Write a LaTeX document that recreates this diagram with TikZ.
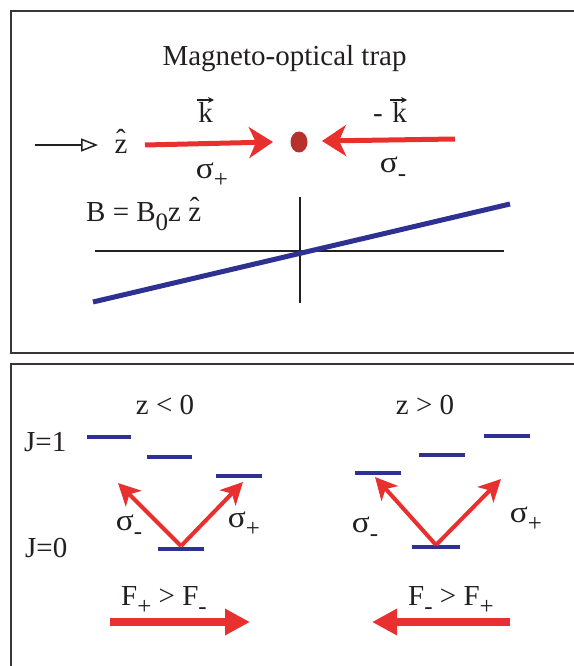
\documentclass[tikz,border=0pt]{standalone}
\usepackage{fontspec}
\setmainfont{Liberation Serif}
\usetikzlibrary{arrows.meta,shapes.geometric}
\definecolor{mred}{HTML}{E8302F}
\definecolor{mdot}{HTML}{B8302C}
\definecolor{mblue}{HTML}{2E3192}
\definecolor{mblack}{HTML}{231F20}
\newcommand\sbs[1]{\raisebox{-0.33em}{\fontsize{25}{25}\selectfont #1}}
\newcommand\sig{\scalebox{1.15}[1.05]{σ}}
\newcommand\zhat{\ooalign{z\cr\hidewidth\raisebox{0.13em}{\char"02C6}\hidewidth\cr}}
\tikzset{
  txt/.style={anchor=base,inner sep=0pt,font=\fontsize{29}{32}\selectfont,text=mblack},
  frame/.style={draw=mblack!90,line width=2pt},
  level/.style={draw=mblue,line width=4pt},
  beam/.style={draw=mred,line width=5pt,-{Stealth[length=24pt,width=31pt,inset=7pt]}},
  trans/.style={draw=mred,line width=4pt,-{Stealth[length=22pt,width=22pt,inset=6pt]}},
  force/.style={draw=mred,line width=8pt,-{Triangle[length=25pt,width=25pt]}},
  axis/.style={draw=mblack,line width=1.5pt},
  karrow/.style={draw=mblack,line width=1.3pt,-{Stealth[length=6pt,width=6pt]}},
}
\begin{document}
\begin{tikzpicture}[x=1pt,y=-1pt]
\useasboundingbox (0,0) rectangle (573,666);
% frames
\draw[frame] (11,11) rectangle (590,353);
\draw[frame] (11,364) rectangle (590,690);

% ---------- top panel ----------
\node[txt] (title) at (284.5,66) {Magneto-optical trap};

\node[txt] (k1) at (205.5,122) {k};
\coordinate (k1a) at (197,100);
\coordinate (k1b) at (214,100);
\draw[karrow] (k1a) -- (k1b);

\node[txt] (k2) at (390,122) {-\,\,k};
\coordinate (k2a) at (390,100);
\coordinate (k2b) at (407,100);
\draw[karrow] (k2a) -- (k2b);

\coordinate (za) at (35,145);
\coordinate (zb) at (98,145);
\draw[draw=mblack,line width=1.5pt,-{Triangle[open,length=17pt,width=13pt,line width=1.5pt]}] (za) -- (zb);
\node[txt] (zh) at (121,153) {\zhat};

\node[draw=none,fill=mdot,ellipse,minimum width=17pt,minimum height=21pt,inner sep=0pt] (atom) at (299,142) {};
\coordinate (b1s) at (145,145);
\coordinate (b1e) at (273,142);
\coordinate (b2s) at (455,139);
\coordinate (b2e) at (322,141);
\draw[beam] (b1s) -- (b1e);
\draw[beam] (b2s) -- (b2e);

\node[txt] (sp1) at (212,178) {\sig\sbs{+}};
\node[txt] (sm1) at (393,172) {\sig\sbs{-}};

\node[txt,anchor=base west] (beq) at (86,221) {B = B\sbs{0}z \zhat};

\coordinate (hx1) at (95,251);
\coordinate (hx2) at (504,251);
\coordinate (vy1) at (300,197);
\coordinate (vy2) at (300,303);
\draw[axis] (hx1) -- (hx2);
\draw[axis] (vy1) -- (vy2);
\coordinate (bl1) at (93,302);
\coordinate (bl2) at (510,204);
\draw[draw=mblue,line width=5pt] (bl1) -- (bl2);

% ---------- bottom panel ----------
\node[txt] (zl) at (165,414) {z < 0};
\node[txt] (zr) at (425,414) {z > 0};
\node[txt,anchor=base west] (j1) at (24,451) {J=1};
\node[txt,anchor=base west] (j0) at (25,557) {J=0};

% left levels
\draw[level] (87,437) -- (131,437);
\draw[level] (147,457) -- (192,457);
\draw[level] (216,476) -- (262,476);
\draw[level] (158,549) -- (204,549);
% right levels
\draw[level] (355,473) -- (401,473);
\draw[level] (419,455) -- (465,455);
\draw[level] (484,436) -- (530,436);
\draw[level] (412,547) -- (460,547);

\coordinate (gl) at (181,546);
\coordinate (tl1) at (118,483);
\coordinate (tl2) at (243,482);
\draw[trans] (gl) -- (tl1);
\draw[trans] (gl) -- (tl2);
\coordinate (gr) at (436,545);
\coordinate (tr1) at (375,477);
\coordinate (tr2) at (501,479);
\draw[trans] (gr) -- (tr1);
\draw[trans] (gr) -- (tr2);

\node[txt] (sml) at (129,530) {\sig\sbs{-}};
\node[txt] (spl) at (244,527) {\sig\sbs{+}};
\node[txt] (smr) at (365,532) {\sig\sbs{-}};
\node[txt] (spr) at (526,522) {\sig\sbs{+}};

\node[txt] (fl) at (164,605) {F\sbs{+} > F\sbs{-}};
\node[txt] (fr) at (451,605) {F\sbs{-} > F\sbs{+}};

\coordinate (fl1) at (110,622);
\coordinate (fl2) at (250,622);
\coordinate (fr1) at (510,622);
\coordinate (fr2) at (372,622);
\draw[force] (fl1) -- (fl2);
\draw[force] (fr1) -- (fr2);
\end{tikzpicture}
\end{document}
